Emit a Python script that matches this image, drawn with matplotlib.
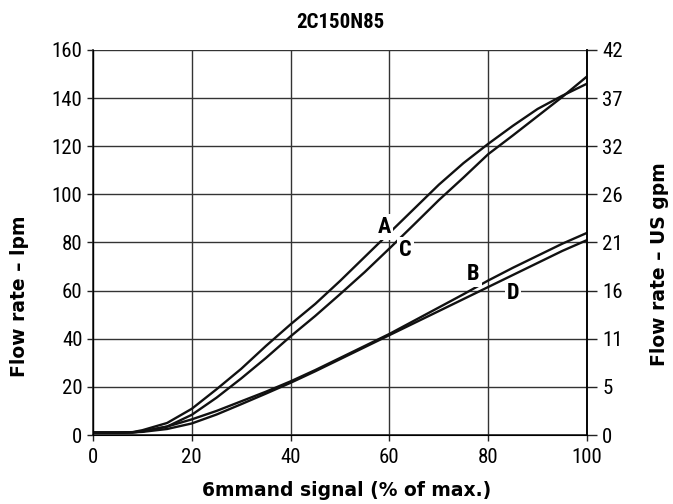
import matplotlib
matplotlib.use('Agg')
import matplotlib.pyplot as plt

plt.rcParams['font.family'] = ['Roboto Condensed', 'DejaVu Sans']

# command signal (% of max.)
x_sig = [0, 5, 8, 10, 15, 20, 25, 30, 35, 40, 45, 50, 55, 60, 65, 70, 75, 80, 85, 90, 95, 100]

# flow rate (lpm)
flow_a = [1, 1, 1.2, 2, 5, 10.9, 19, 27.5, 37, 46, 54.5, 64, 74, 84, 94, 104, 113, 121, 128.5, 135.5, 141, 146]
flow_c = [1, 1, 1.1, 1.5, 3.5, 8.4, 15.5, 23.5, 32, 41, 49.5, 58.5, 67.7, 77.5, 87.5, 97.6, 107, 116.7, 124.5, 132.5, 140.5, 149]
flow_b = [1, 1, 1.1, 1.5, 3.5, 6.5, 10, 14, 18, 22.3, 27, 32, 37, 42, 47.5, 53, 58.5, 64.2, 69.5, 74.5, 79.5, 84]
flow_d = [1, 1, 1.1, 1.3, 2.5, 4.8, 8.5, 12.8, 17.2, 21.7, 26.5, 31.5, 36.5, 41.5, 46.5, 51.5, 56.5, 61.5, 66.5, 71.5, 76.5, 81]

lpm_ticks = [0, 20, 40, 60, 80, 100, 120, 140, 160]
gpm_labels = ['0', '5', '11', '16', '21', '26', '32', '37', '42']
x_ticks = [0, 20, 40, 60, 80, 100]

curve_labels = ['A', 'C', 'B', 'D']
label_pos = [(59, 86.5), (63.3, 77), (77, 67), (85, 59)]

fig = plt.figure(figsize=(6.73, 5.04), dpi=100)
ax = fig.add_axes([0.1382, 0.1369, 0.734, 0.7639])

for y in [flow_a, flow_c, flow_b, flow_d]:
    ax.plot(x_sig, y, color='#111111', lw=1.7, zorder=3)

for name, (lx, ly) in zip(curve_labels, label_pos):
    ax.text(lx, ly, name, fontsize=16, fontweight='bold', ha='center', va='center', zorder=4,
            bbox=dict(facecolor='white', edgecolor='none', pad=1.5))

ax.set_xlim(0, 100)
ax.set_ylim(0, 160)
ax.set_xticks(x_ticks)
ax.set_yticks(lpm_ticks)
ax.grid(True, color='#333333', lw=1.0)
ax.set_axisbelow(True)
ax.spines['top'].set_visible(False)
for s in ['left', 'right', 'bottom']:
    ax.spines[s].set_color('#222222')
    ax.spines[s].set_linewidth(1.2)
ax.tick_params(axis='y', labelsize=15, length=4.5, width=1.0, color='#222222', pad=3)
ax.tick_params(axis='x', labelsize=15, length=4, width=1.0, color='#222222', pad=5)

ax2 = ax.twinx()
ax2.set_ylim(0, 160)
ax2.set_yticks(lpm_ticks)
ax2.set_yticklabels(gpm_labels)
ax2.spines['top'].set_visible(False)
ax2.spines['right'].set_linewidth(1.2)
ax2.tick_params(labelsize=15, length=7, width=1.0, color='#222222', pad=4)

ax.set_title('2C150N85', fontsize=15, fontweight='bold', pad=16)

lab_font = dict(fontsize=13.5, fontweight='bold', family='DejaVu Sans')
ax.set_xlabel('6mmand signal (% of max.)', va='center', **lab_font)
ax.xaxis.set_label_coords(0.514, -0.143)
ax.set_ylabel('Flow rate \u2013 lpm', va='center', **lab_font)
ax.yaxis.set_label_coords(-0.148, 0.361)
ax2.set_ylabel('Flow rate \u2013 US gpm', va='center', **lab_font)
ax2.yaxis.set_label_coords(1.146, 0.445)

fig.savefig('out.png', dpi=100)
